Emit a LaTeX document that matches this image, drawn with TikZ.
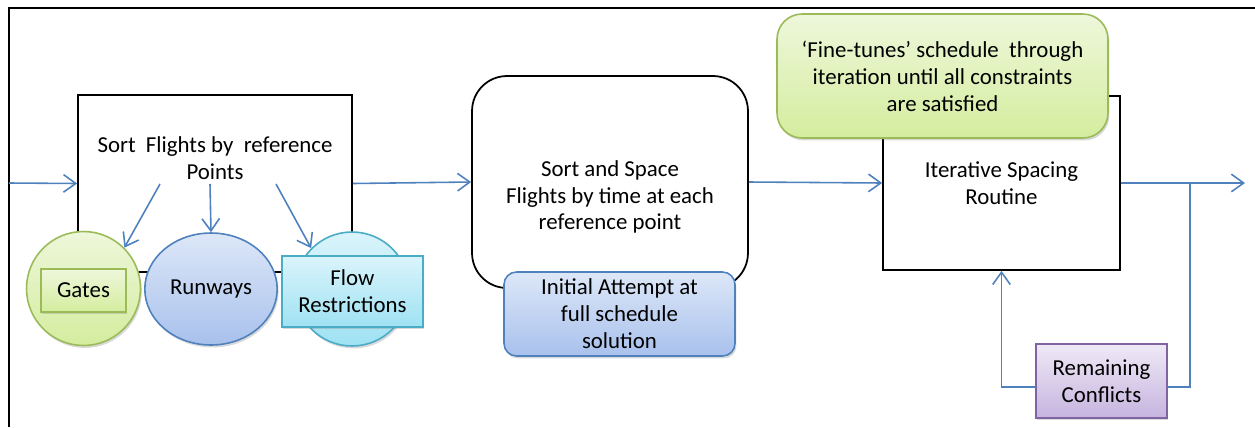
\documentclass[tikz,border=0pt]{standalone}
\usepackage{fontspec}
\setmainfont{Carlito}
\usepackage{xcolor}
\usepackage{tikz}
\usetikzlibrary{calc, shapes.geometric, positioning, arrows.meta, shadows}

\definecolor{lineblue}{HTML}{4F81BD}
\definecolor{grnedge}{HTML}{9BBB59}
\definecolor{grntop}{HTML}{EEF7DB}
\definecolor{grnbot}{HTML}{D4ED9E}
\definecolor{bluetop}{HTML}{DDE7F8}
\definecolor{bluebot}{HTML}{A8C1EC}
\definecolor{cyanedge}{HTML}{4BACC6}
\definecolor{cyantop}{HTML}{DAF4FB}
\definecolor{cyanbot}{HTML}{9FE2F3}
\definecolor{purpedge}{HTML}{8064A2}
\definecolor{purptop}{HTML}{EFE9F6}
\definecolor{purpbot}{HTML}{C6B4DF}

\begin{document}
\begin{tikzpicture}[x=0.02cm, y=-0.02cm, >={Straight Barb[length=7pt, width=10pt]},
    txt/.style={align=center, font=\fontsize{13}{15.3}\selectfont},
    plainbox/.style={draw=black, line width=1pt, fill=white},
    flow/.style={->, draw=lineblue, line width=0.9pt},
    link/.style={draw=lineblue, line width=0.9pt},
    shade/.style={drop shadow={opacity=0.3, shadow xshift=0.8pt, shadow yshift=-1.4pt}},
    grnfill/.style={shade, draw=grnedge, line width=0.9pt, top color=grntop, bottom color=grnbot},
    bluefill/.style={shade, draw=lineblue, line width=0.9pt, top color=bluetop, bottom color=bluebot},
    cyanfill/.style={shade, draw=cyanedge, line width=0.9pt, top color=cyantop, bottom color=cyanbot},
    purpfill/.style={shade, draw=purpedge, line width=0.9pt, top color=purptop, bottom color=purpbot}]
    \useasboundingbox (0,0) rectangle (1255,427);

    % Rahmen
    \draw[line width=1.4pt] (9,427) -- (9,8) -- (1255,8);

    % Schritt 1: nach Referenzpunkten sortieren
    \node[plainbox, minimum width=5.48cm, minimum height=3.54cm] (sort) at (215,183.5) {};
    \node[txt] (sorttxt) at (215,158) {Sort\ \ Flights by\ \ reference\\Points};
    \coordinate (s1) at (160,184);
    \coordinate (s2) at (210,184);
    \coordinate (s3) at (276,184);

    \node[grnfill, circle, minimum size=2.28cm] (gatec) at (83.5,288.5) {};
    \node[grnfill, rectangle, minimum width=1.7cm, minimum height=0.86cm, txt] (gates) at (83.5,290.5) {Gates};
    \node[bluefill, ellipse, minimum width=2.6cm, minimum height=2.24cm, txt] (runways) at (211,289) {Runways};
    \node[cyanfill, circle, minimum size=2.28cm] (flowc) at (352,289) {};
    \node[cyanfill, rectangle, minimum width=2.82cm, minimum height=1.42cm, txt] (flowr) at (352.5,291.5) {Flow\\Restrictions};

    \draw[flow] (s1) -- (gatec.45);
    \draw[flow] (s2) -- (runways.north);
    \draw[flow] (s3) -- (flowc.135);

    % Schritt 2: sortieren und staffeln
    \node[plainbox, rounded corners=0.7cm, minimum width=5.52cm, minimum height=4.24cm] (space) at (610,182) {};
    \node[txt] (spacetxt) at (610,197) {Sort and Space\\Flights by time at each\\reference point};
    \node[bluefill, rounded corners=0.25cm, minimum width=4.62cm, minimum height=1.68cm, txt] (initial) at (619.5,314) {Initial Attempt at\\full schedule\\solution};

    % Schritt 3: iterative Staffelung
    \node[plainbox, minimum width=4.74cm, minimum height=3.48cm, txt] (iter) at (1001.5,183) {Iterative Spacing\\Routine};
    \node[grnfill, rounded corners=0.5cm, minimum width=6.62cm, minimum height=2.48cm, txt] (finetune) at (942.5,76) {`Fine-tunes' schedule\ \ through\\iteration until all constraints\\are satisfied};
    \node[purpfill, rectangle, minimum width=2.62cm, minimum height=1.48cm, txt] (conflicts) at (1101.5,381) {Remaining\\Conflicts};

    % Verbindungen
    \coordinate (in) at (9,183);
    \coordinate (split) at (1190,183);
    \coordinate (out) at (1245,183);
    \draw[flow] (in) -- (sort.west);
    \draw[flow] (sort.east) -- (space.west);
    \draw[flow] (space.east) -- (iter.west);
    \draw[flow] (iter.east) -- (out);
    \draw[link] (split) |- ([yshift=-0.12cm]conflicts.east);
    \draw[flow] ([yshift=-0.12cm]conflicts.west) -| (iter.south);
\end{tikzpicture}
\end{document}
